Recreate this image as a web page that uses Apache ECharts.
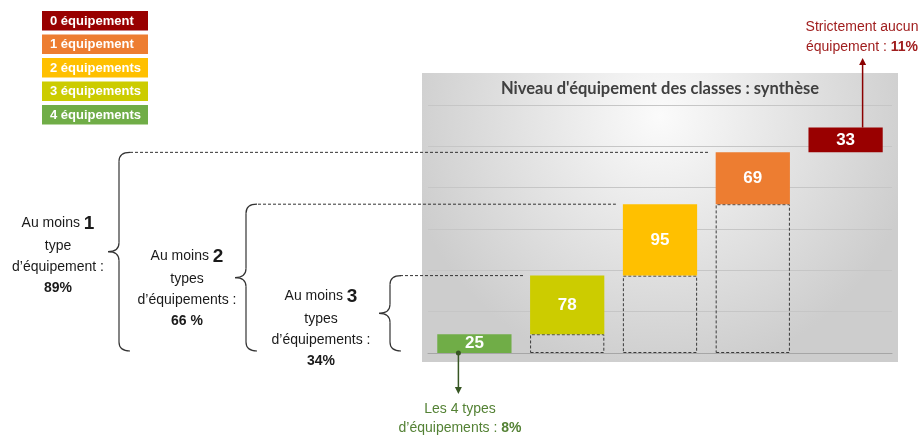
<!DOCTYPE html>
<html>
<head>
<meta charset="utf-8">
<script src="https://cdn.jsdelivr.net/npm/echarts@6/dist/echarts.min.js"></script>
<style>
  html, body { margin: 0; background: #fff; }
  #chart { width: 921px; height: 439px; }
</style>
</head>
<body>
<div id="chart"></div>
<script>
// catégories dans l'ordre du graphique (4 -> 0 équipement)
const categories = ['4 équipements', '3 équipements', '2 équipements', '1 équipement', '0 équipement'];
const values = [25, 78, 95, 69, 33];
const colors = ['#70AD47', '#CCCC00', '#FFC000', '#ED7D31', '#990000'];
const dashedBase = [false, true, true, true, false];
const yMin = 0, yMax = 330, yInterval = 55;

const title = "Niveau d'équipement des classes : synthèse";
const braceTexts = [
  { big: '1', l2: 'type', l3: 'd’équipement :', pct: '89%' },
  { big: '2', l2: 'types', l3: 'd’équipements :', pct: '66 %' },
  { big: '3', l2: 'types', l3: 'd’équipements :', pct: '34%' }
];

const FONT = '"Liberation Sans", Arial, sans-serif';

// base de chaque marche de la cascade
let acc = 0;
const bases = values.map(v => { const b = acc; acc += v; return b; });

const chart = echarts.init(document.getElementById('chart'));

chart.setOption({
  animation: false,
  grid: { left: 428, right: 29, top: 105, bottom: 86 },
  xAxis: {
    type: 'category',
    data: categories,
    axisLine: { show: true, lineStyle: { color: '#a6a6a6', width: 1 } },
    axisTick: { show: false },
    axisLabel: { show: false }
  },
  yAxis: {
    type: 'value',
    min: yMin, max: yMax, interval: yInterval,
    axisLabel: { show: false },
    axisLine: { show: false },
    axisTick: { show: false },
    splitLine: { lineStyle: { color: '#c6c6c6' } }
  },
  series: [
    {
      type: 'bar',
      stack: 'w',
      barCategoryGap: '20%',
      silent: true,
      data: bases.map((b, i) => ({
        value: b,
        itemStyle: dashedBase[i]
          ? { color: 'rgba(0,0,0,0)', borderColor: '#3a3a3a', borderWidth: 1, borderType: [3, 2] }
          : { color: 'rgba(0,0,0,0)' }
      }))
    },
    {
      type: 'bar',
      stack: 'w',
      barCategoryGap: '20%',
      data: values.map((v, i) => ({ value: v, itemStyle: { color: colors[i] } })),
      label: {
        show: true,
        position: 'inside',
        color: '#fff',
        fontWeight: 'bold',
        fontSize: 17,
        fontFamily: FONT
      }
    }
  ]
});

// positions à partir des échelles de la librairie
const px = (i, v) => chart.convertToPixel({ gridIndex: 0 }, [i, v]);
const band = px(1, 0)[0] - px(0, 0)[0];
const barW = band * 0.8;
const baseY = px(0, 0)[1];
const left = i => px(i, 0)[0] - barW / 2;

const g = [];

// fond gris dégradé
g.push({
  type: 'rect', z: -10, silent: true,
  shape: { x: 422, y: 73, width: 476, height: 289 },
  style: {
    fill: new echarts.graphic.RadialGradient(0.5, 0.15, 0.9, [
      { offset: 0, color: '#fbfbfb' },
      { offset: 1, color: '#cdcdcd' }
    ])
  }
});

g.push({
  type: 'text', z: 10,
  style: {
    text: title, x: 660, y: 89, align: 'center', verticalAlign: 'middle',
    fill: '#404040', font: 'bold 16.5px Lato, "Noto Sans", sans-serif'
  }
});

// légende
categories.slice().reverse().forEach((c, k) => {
  const y = 11 + k * 23.5;
  g.push({
    type: 'rect', shape: { x: 42, y: y, width: 106, height: 19.5 },
    style: { fill: colors[categories.length - 1 - k] }
  });
  g.push({
    type: 'text',
    style: {
      text: c, x: 50, y: y + 10, verticalAlign: 'middle',
      fill: '#fff', font: 'bold 13px ' + FONT
    }
  });
});

// accolades, pointillés et textes "Au moins ..."
const braces = [
  { idx: 3, xv: 119, x0: 130, tx: 58, ty: 255 },
  { idx: 2, xv: 246, x0: 258, tx: 187, ty: 288 },
  { idx: 1, xv: 390, x0: 400, tx: 321, ty: 328 }
];
const braceStyle = { stroke: '#333', lineWidth: 1.2, fill: 'none' };
braces.forEach((b, k) => {
  const top = px(b.idx, bases[b.idx + 1])[1];
  const bot = baseY - 2;
  const mid = (top + bot) / 2;
  const w = 11, r = 9;
  const xv = b.xv;
  const curve = (x1, y1, cx, cy, x2, y2) => ({
    type: 'bezierCurve', shape: { x1, y1, cpx1: cx, cpy1: cy, x2, y2 }, style: braceStyle
  });
  g.push(curve(xv + w, top, xv, top, xv, top + r));
  g.push({ type: 'line', shape: { x1: xv, y1: top + r, x2: xv, y2: mid - r }, style: braceStyle });
  g.push(curve(xv, mid - r, xv, mid, xv - w, mid));
  g.push(curve(xv - w, mid, xv, mid, xv, mid + r));
  g.push({ type: 'line', shape: { x1: xv, y1: mid + r, x2: xv, y2: bot - r }, style: braceStyle });
  g.push(curve(xv, bot - r, xv, bot, xv + w, bot));

  g.push({
    type: 'line',
    shape: { x1: b.x0, y1: top, x2: left(b.idx) - 7, y2: top },
    style: { stroke: '#333', lineWidth: 1, lineDash: [3, 2] }
  });
  const t = braceTexts[k];
  g.push({
    type: 'text',
    style: {
      x: b.tx, y: b.ty, align: 'center', verticalAlign: 'middle',
      text: `{a|Au moins }{b|${t.big}}\n{a|${t.l2}}\n{a|${t.l3}}\n{c|${t.pct}}`,
      rich: {
        a: { fontSize: 14, fontFamily: FONT, fill: '#1a1a1a', lineHeight: 21 },
        b: { fontSize: 19, fontFamily: FONT, fontWeight: 'bold', fill: '#1a1a1a', lineHeight: 24 },
        c: { fontSize: 14, fontFamily: FONT, fontWeight: 'bold', fill: '#1a1a1a', lineHeight: 21 }
      }
    }
  });
});

// flèche rouge : strictement aucun équipement
const rx = px(4, 0)[0] + 17;
const rTop = px(4, acc)[1];
g.push({ type: 'line', shape: { x1: rx, y1: rTop, x2: rx, y2: 62 }, style: { stroke: '#8B0000', lineWidth: 1.5 } });
g.push({ type: 'polygon', shape: { points: [[rx, 58], [rx - 3.5, 65], [rx + 3.5, 65]] }, style: { fill: '#8B0000' } });
g.push({
  type: 'text',
  style: {
    x: 862, y: 37, align: 'center', verticalAlign: 'middle',
    text: '{a|Strictement aucun}\n{a|équipement : }{b|11%}',
    rich: {
      a: { fontSize: 14, fontFamily: FONT, fill: '#A01E1E', lineHeight: 20 },
      b: { fontSize: 14, fontFamily: FONT, fontWeight: 'bold', fill: '#A01E1E', lineHeight: 20 }
    }
  }
});

// flèche verte : les 4 types
const gx = px(0, 0)[0] - 16;
g.push({ type: 'circle', shape: { cx: gx, cy: baseY, r: 2.5 }, style: { fill: '#375623' }, z: 20 });
g.push({ type: 'line', shape: { x1: gx, y1: baseY, x2: gx, y2: 390 }, style: { stroke: '#375623', lineWidth: 1.5 } });
g.push({ type: 'polygon', shape: { points: [[gx, 394], [gx - 3.5, 387], [gx + 3.5, 387]] }, style: { fill: '#375623' } });
g.push({
  type: 'text',
  style: {
    x: 460, y: 419, align: 'center', verticalAlign: 'middle',
    text: '{a|Les 4 types}\n{a|d’équipements : }{b|8%}',
    rich: {
      a: { fontSize: 14, fontFamily: FONT, fill: '#548235', lineHeight: 19 },
      b: { fontSize: 14, fontFamily: FONT, fontWeight: 'bold', fill: '#548235', lineHeight: 19 }
    }
  }
});

chart.setOption({ graphic: g });
</script>
</body>
</html>
